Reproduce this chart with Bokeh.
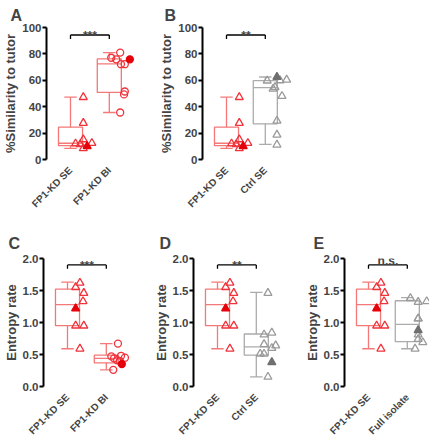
import math
from bokeh.plotting import figure
from bokeh.models import Range1d, FixedTicker, PrintfTickFormatter, Label
from bokeh.layouts import row, column
from bokeh.embed import file_html
from bokeh.resources import INLINE

# ---------------- data ----------------
labels_A = ["FP1-KD SE", "FP1-KD BI"]
labels_B = ["FP1-KD SE", "Ctrl SE"]
labels_C = ["FP1-KD SE", "FP1-KD BI"]
labels_D = ["FP1-KD SE", "Ctrl SE"]
labels_E = ["FP1-KD SE", "Full isolate"]
panel_letters = ["A", "B", "C", "D", "E"]
sig_texts = ["***", "**", "***", "**", "n.s."]

# % similarity to tutor
sim_kd_se = [47.2, 27.6, 15.2, 12.0, 11.5, 8.4, 12.4]
sim_kd_se_filled = [10.1]
sim_kd_bi = [81.0, 77.1, 75.9, 72.2, 72.2, 51.5, 49.3, 35.6]
sim_kd_bi_filled = [75.9]
sim_ctrl_se = [59.7, 59.9, 60.4, 53.5, 54.7, 48.0, 29.3, 18.7, 11.2]
sim_ctrl_se_filled = [62.5]

# entropy rate
ent_kd_se = [1.62, 1.55, 1.46, 1.33, 0.95, 0.95, 0.59]
ent_kd_se_filled = [1.22]
ent_kd_bi = [0.67, 0.47, 0.48, 0.45, 0.44, 0.41, 0.40, 0.26]
ent_kd_bi_filled = [0.35]
ent_ctrl_se = [1.46, 0.81, 0.84, 0.66, 0.60, 0.64, 0.51, 0.51, 0.15]
ent_ctrl_se_filled = [0.38]
ent_full = [1.38, 1.32, 1.33, 1.06, 1.06, 0.81, 0.74, 0.69, 0.59]
ent_full_filled = [0.88]

# box statistics: [whisker low, q1, median, q3, whisker high]
box_sim_kd_se = [8.5, 10.5, 12.3, 24.5, 47.2]
box_sim_kd_bi = [35.6, 50.8, 72.5, 76.3, 81.0]
box_sim_ctrl_se = [11.5, 27.0, 54.5, 59.7, 62.5]
box_ent_kd_se = [0.59, 0.95, 1.28, 1.52, 1.63]
box_ent_kd_bi = [0.26, 0.37, 0.44, 0.49, 0.67]
box_ent_ctrl_se = [0.15, 0.49, 0.62, 0.82, 1.47]
box_ent_full = [0.59, 0.70, 0.97, 1.34, 1.39]

# horizontal scatter of the points (category units, right of the box centre)
jit_sim_kd_se = [0.33, 0.33, 0.33, 0.13, 0.25, 0.33, 0.55]
jit_sim_kd_se_filled = [0.43]
jit_sim_kd_bi = [0.28, 0.05, 0.18, 0.30, 0.40, 0.40, 0.38, 0.28]
jit_sim_kd_bi_filled = [0.53]
jit_sim_ctrl_se = [0.05, 0.38, 0.55, 0.20, 0.25, 0.43, 0.30, 0.30, 0.30]
jit_sim_ctrl_se_filled = [0.30]
jit_ent_kd_se = [0.32, 0.21, 0.42, 0.40, 0.21, 0.42, 0.32]
jit_ent_kd_se_filled = [0.21]
jit_ent_kd_bi = [0.30, 0.13, 0.38, 0.48, 0.20, 0.28, 0.35, 0.18]
jit_ent_kd_bi_filled = [0.40]
jit_ent_ctrl_se = [0.30, 0.20, 0.40, 0.20, 0.40, 0.50, 0.10, 0.20, 0.30]
jit_ent_ctrl_se_filled = [0.40]
jit_ent_full = [0.08, 0.28, 0.50, 0.28, 0.28, 0.28, 0.28, 0.40, 0.20]
jit_ent_full_filled = [0.28]

sim_ticks = [0, 20, 40, 60, 80, 100]
ent_ticks = [0.0, 0.5, 1.0, 1.5, 2.0]
sim_sig_y = 94.3
ent_sig_y = 1.90

# ---------------- styles ----------------
FONT = "Liberation Sans"
RED_BOX = "#F47878"
RED_PT = "#F0323A"
RED_FILL = "#E5000A"
GRAY_BOX = "#ABABAB"
GRAY_PT = "#9A9A9A"
GRAY_FILL = "#6F6F6F"
PX_PER_CAT = 38.8

red_tri = dict(marker="triangle", box=RED_BOX, pt=RED_PT, fill=RED_FILL)
red_circ = dict(marker="circle", box=RED_BOX, pt=RED_PT, fill=RED_FILL)
gray_tri = dict(marker="triangle", box=GRAY_BOX, pt=GRAY_PT, fill=GRAY_FILL)


def draw_group(p, pos, vals, vals_f, jit, jit_f, box, st):
    wl, q1, med, q3, wh = box
    hw = 0.31
    cw = 0.16
    kw = dict(line_color=st["box"], line_width=1.3)
    p.quad(left=[pos - hw], right=[pos + hw], bottom=[q1], top=[q3],
           fill_color=None, **kw)
    p.segment(x0=[pos - hw, pos, pos, pos - cw, pos - cw],
              x1=[pos + hw, pos, pos, pos + cw, pos + cw],
              y0=[med, q3, q1, wh, wl],
              y1=[med, wh, wl, wh, wl], **kw)
    size = 8 if st["marker"] == "triangle" else 7
    p.scatter(x=[pos + j for j in jit], y=vals, marker=st["marker"], size=size,
              fill_color=None, line_color=st["pt"], line_width=1.3)
    p.scatter(x=[pos + j for j in jit_f], y=vals_f, marker=st["marker"], size=size,
              fill_color=st["fill"], line_color=st["fill"], line_width=1.3)


def make_panel(idx, tick_labels, groups, yr, yticks, ylabel, fmt, sig_y, leg,
               frame_w, frame_h, bleft, bright, btop, bbot, title_off, title_standoff):
    x0 = 1 - 24 / PX_PER_CAT
    x1 = x0 + frame_w / PX_PER_CAT
    p = figure(frame_width=frame_w, frame_height=frame_h, x_range=Range1d(x0, x1),
               y_range=Range1d(*yr), output_backend="svg", toolbar_location=None,
               min_border_left=bleft, min_border_right=bright,
               min_border_top=btop, min_border_bottom=bbot)
    p.outline_line_color = None
    p.grid.visible = False
    p.background_fill_color = "white"
    p.border_fill_color = "white"

    p.title.text = panel_letters[idx]
    p.title.text_font = FONT
    p.title.text_font_size = "16px"
    p.title.text_font_style = "bold"
    p.title.align = "left"
    p.title.offset = title_off
    p.title.standoff = title_standoff

    ya = p.yaxis[0]
    ya.ticker = FixedTicker(ticks=yticks, minor_ticks=[])
    ya.formatter = PrintfTickFormatter(format=fmt)
    ya.axis_label = ylabel
    ya.axis_label_text_font = FONT
    ya.axis_label_text_font_style = "bold"
    ya.axis_label_text_font_size = "13px"
    ya.axis_label_standoff = 1
    ya.major_label_text_font = FONT
    ya.major_label_text_font_style = "bold"
    ya.major_label_text_font_size = "11.5px"
    ya.major_label_standoff = 1
    ya.axis_line_width = 2
    ya.major_tick_line_width = 2
    ya.major_tick_out = 4
    ya.major_tick_in = 0
    ya.minor_tick_out = 0
    ya.minor_tick_in = 0

    xa = p.xaxis[0]
    xa.ticker = FixedTicker(ticks=[1, 2], minor_ticks=[])
    xa.major_label_overrides = {1: tick_labels[0], 2: tick_labels[1]}
    xa.major_label_orientation = math.pi / 4
    xa.major_label_text_font = FONT
    xa.major_label_text_font_style = "bold"
    xa.major_label_text_font_size = "10px"
    xa.major_label_standoff = 3
    xa.axis_line_color = None
    xa.major_tick_line_color = None
    xa.minor_tick_line_color = None

    for pos, (vals, vals_f, jit, jit_f, box, st) in zip([1, 2], groups):
        draw_group(p, pos, vals, vals_f, jit, jit_f, box, st)

    sig = sig_texts[idx]
    p.segment(x0=[1, 1, 2], x1=[2, 1, 2], y0=[sig_y, sig_y, sig_y],
              y1=[sig_y, sig_y - leg, sig_y - leg], line_color="black", line_width=1.3)
    # text anchored above the bracket in data units (baseline one leg-height above it)
    text_y = sig_y + leg if sig == "n.s." else sig_y - 0.3 * leg
    p.add_layout(Label(x=1.5, y=text_y, text=sig, text_align="center",
                       text_baseline="alphabetic", text_font=FONT,
                       text_font_style="bold", text_font_size="12px"))
    return p


g_sim_kd_se = (sim_kd_se, sim_kd_se_filled, jit_sim_kd_se, jit_sim_kd_se_filled, box_sim_kd_se, red_tri)
g_sim_kd_bi = (sim_kd_bi, sim_kd_bi_filled, jit_sim_kd_bi, jit_sim_kd_bi_filled, box_sim_kd_bi, red_circ)
g_sim_ctrl = (sim_ctrl_se, sim_ctrl_se_filled, jit_sim_ctrl_se, jit_sim_ctrl_se_filled, box_sim_ctrl_se, gray_tri)
g_ent_kd_se = (ent_kd_se, ent_kd_se_filled, jit_ent_kd_se, jit_ent_kd_se_filled, box_ent_kd_se, red_tri)
g_ent_kd_bi = (ent_kd_bi, ent_kd_bi_filled, jit_ent_kd_bi, jit_ent_kd_bi_filled, box_ent_kd_bi, red_circ)
g_ent_ctrl = (ent_ctrl_se, ent_ctrl_se_filled, jit_ent_ctrl_se, jit_ent_ctrl_se_filled, box_ent_ctrl_se, gray_tri)
g_ent_full = (ent_full, ent_full_filled, jit_ent_full, jit_ent_full_filled, box_ent_full, gray_tri)

# top row: frame 132 high, 27 px above, 57 below
pA = make_panel(0, labels_A, [g_sim_kd_se, g_sim_kd_bi], (0, 100), sim_ticks,
                "%Similarity to tutor", "%d", sim_sig_y, 3.0,
                100, 132, 36, 10, 27, 57, -36, 8)
pB = make_panel(1, labels_B, [g_sim_kd_se, g_sim_ctrl], (0, 100), sim_ticks,
                "%Similarity to tutor", "%d", sim_sig_y, 3.0,
                100, 132, 38, 4, 27, 57, -38, 8)
# bottom row: frame 128 high, 42 px above, 46 below
pC = make_panel(2, labels_C, [g_ent_kd_se, g_ent_kd_bi], (0, 2), ent_ticks,
                "Entropy rate", "%.1f", ent_sig_y, 0.06,
                102, 128, 33, 4, 42, 46, -35, 13)
pD = make_panel(3, labels_D, [g_ent_kd_se, g_ent_ctrl], (0, 2), ent_ticks,
                "Entropy rate", "%.1f", ent_sig_y, 0.06,
                104, 128, 44, 4, 42, 46, -34, 13)
pE = make_panel(4, labels_E, [g_ent_kd_se, g_ent_full], (0, 2), ent_ticks,
                "Entropy rate", "%.1f", ent_sig_y, 0.06,
                85, 128, 41, 0, 42, 46, -31, 13)

layout = column(row(pA, pB), row(pC, pD, pE))
open("out.html", "w").write(file_html(layout, INLINE))
